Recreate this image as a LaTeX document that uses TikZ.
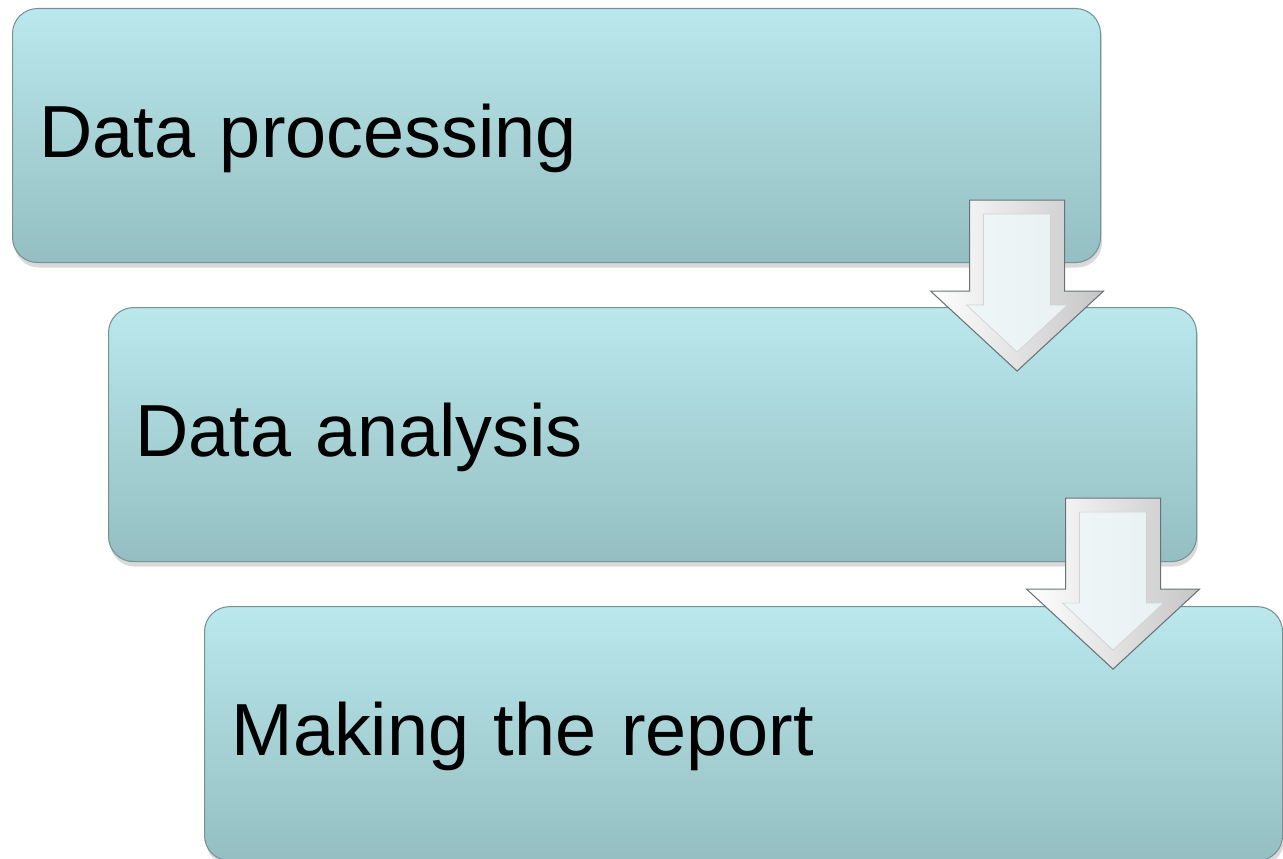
\documentclass[tikz,border=0pt]{standalone}
\usepackage{fontspec}
\setmainfont{Liberation Sans}
\usetikzlibrary{positioning, shadows}

\definecolor{boxtop}{RGB}{186,232,236}
\definecolor{boxbottom}{RGB}{148,190,194}
\definecolor{boxline}{RGB}{118,146,148}
\definecolor{arrowline}{RGB}{105,115,117}
\definecolor{arrowface}{RGB}{238,247,248}

\newcommand{\downblock}[1]{%
	\shadedraw[left color=white, right color=gray!45, draw=arrowline, line width=0.6pt]
		(#1) ++(-0.95,0) -- ++(0,-1.82) -- ++(-0.78,0) -- ++(1.73,-1.6)
		-- ++(1.73,1.6) -- ++(-0.78,0) -- ++(0,1.82) -- cycle;
	\filldraw[fill=arrowface, fill opacity=0.85, draw=gray!35, line width=0.4pt]
		(#1) ++(-0.67,-0.28) -- ++(0,-1.82) -- ++(-0.34,0) -- ++(1.01,-0.94)
		-- ++(1.01,0.94) -- ++(-0.34,0) -- ++(0,1.82) -- cycle;
}

\begin{document}
\begin{tikzpicture} [
						stage/.style={
							rectangle, rounded corners=0.5cm,
							top color=boxtop, bottom color=boxbottom,
							draw=boxline, line width=0.6pt,
							drop shadow={opacity=0.3, shadow xshift=0.03cm, shadow yshift=-0.1cm},
							minimum height=5.08cm, text width=20.68cm,
							inner xsep=0.54cm, inner ysep=0pt, align=left,
							text height=1.02cm, text depth=0.14cm,
							font=\fontsize{42}{50}\selectfont
						}
					]

\useasboundingbox (0,0) rectangle (25.66,-17.18);

\node (proc) [stage, anchor=north west] at (0.24,-0.16) {Data processing};
\node (anal) [stage, below=0.88cm of proc.south west, anchor=north west, xshift=1.92cm] {Data analysis};
\node (report) [stage, below=0.88cm of anal.south west, anchor=north west, xshift=1.92cm, text width=20.48cm] {Making the report};

\path (proc.south east) ++(-1.68,1.26) coordinate (a1);
\path (anal.south east) ++(-1.68,1.28) coordinate (a2);
\downblock{a1}
\downblock{a2}
\end{tikzpicture}
\end{document}
